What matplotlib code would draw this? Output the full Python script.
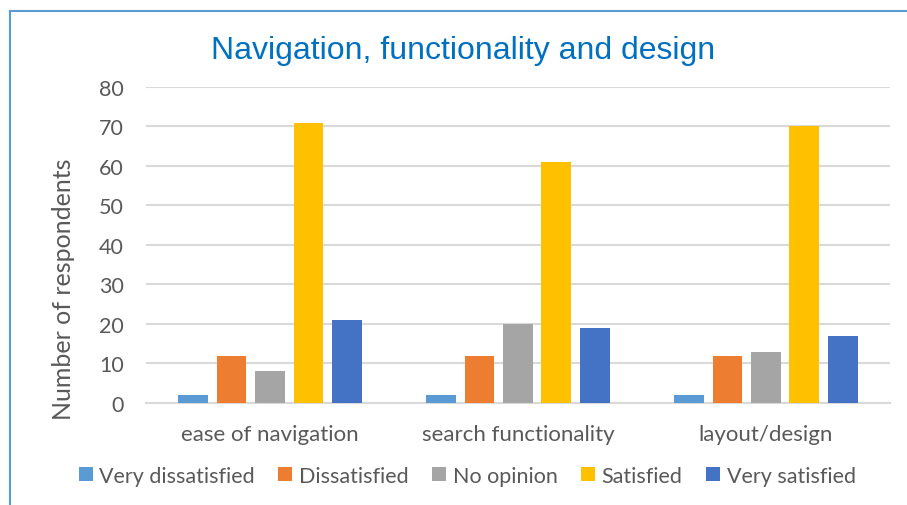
import matplotlib.pyplot as plt
import matplotlib.patches as mpatches
import numpy as np

plt.rcParams['font.family'] = ['Lato', 'DejaVu Sans']

categories = ['ease of navigation', 'search functionality', 'layout/design']
series = ['Very dissatisfied', 'Dissatisfied', 'No opinion', 'Satisfied', 'Very satisfied']
values = {
    'Very dissatisfied': [2, 2, 2],
    'Dissatisfied':      [12, 12, 12],
    'No opinion':        [8, 20, 13],
    'Satisfied':         [71, 61, 70],
    'Very satisfied':    [21, 19, 17],
}
colors = ['#5B9BD5', '#ED7D31', '#A5A5A5', '#FFC000', '#4472C4']
text_col = '#595959'

fig = plt.figure(figsize=(9.07, 5.06), dpi=100)
ax = fig.add_axes([0.161, 0.2016, 0.82, 0.6245])

x = np.arange(len(categories))
step = 0.155
width = 0.12
for i, (name, col) in enumerate(zip(series, colors)):
    ax.bar(x + (i - 2) * step, values[name], width, color=col, label=name, zorder=3)

ax.set_xlim(-0.5, 2.5)
ax.set_ylim(0, 80)
ax.set_yticks(range(0, 81, 10))
ax.grid(axis='y', color='#D9D9D9', linewidth=1.5, zorder=0)
for s in ['top', 'right', 'left']:
    ax.spines[s].set_visible(False)
ax.spines['bottom'].set_color('#D9D9D9')
ax.spines['bottom'].set_linewidth(1.5)
ax.tick_params(axis='both', length=0, labelsize=15.5, labelcolor=text_col)
ax.tick_params(axis='y', pad=16)
ax.tick_params(axis='x', pad=15)
ax.set_xticks(x)
ax.set_xticklabels(categories, fontsize=16)
ax.set_ylabel('Number of respondents', fontsize=18, color=text_col)
ax.yaxis.set_label_coords(-0.096, 0.364)

fig.text(0.511, 0.90, 'Navigation, functionality and design', ha='center', va='center',
         fontsize=23, color='#0070C0', family=['Liberation Sans', 'DejaVu Sans'])

leg = fig.legend(loc='center', bbox_to_anchor=(0.515, 0.058), ncol=5, frameon=False,
                 fontsize=15.5, handlelength=0.65, handleheight=0.65, handletextpad=0.3,
                 columnspacing=1.1, labelcolor=text_col)

# outer chart border (only left and top visible in the crop)
fig.patches.append(mpatches.Rectangle((10 / 907, -0.1), 1.2, 1 - 12 / 506 + 0.1,
                                      transform=fig.transFigure, fill=False,
                                      edgecolor='#5B9BD5', linewidth=1.5))

fig.savefig('out.png', dpi=100)
